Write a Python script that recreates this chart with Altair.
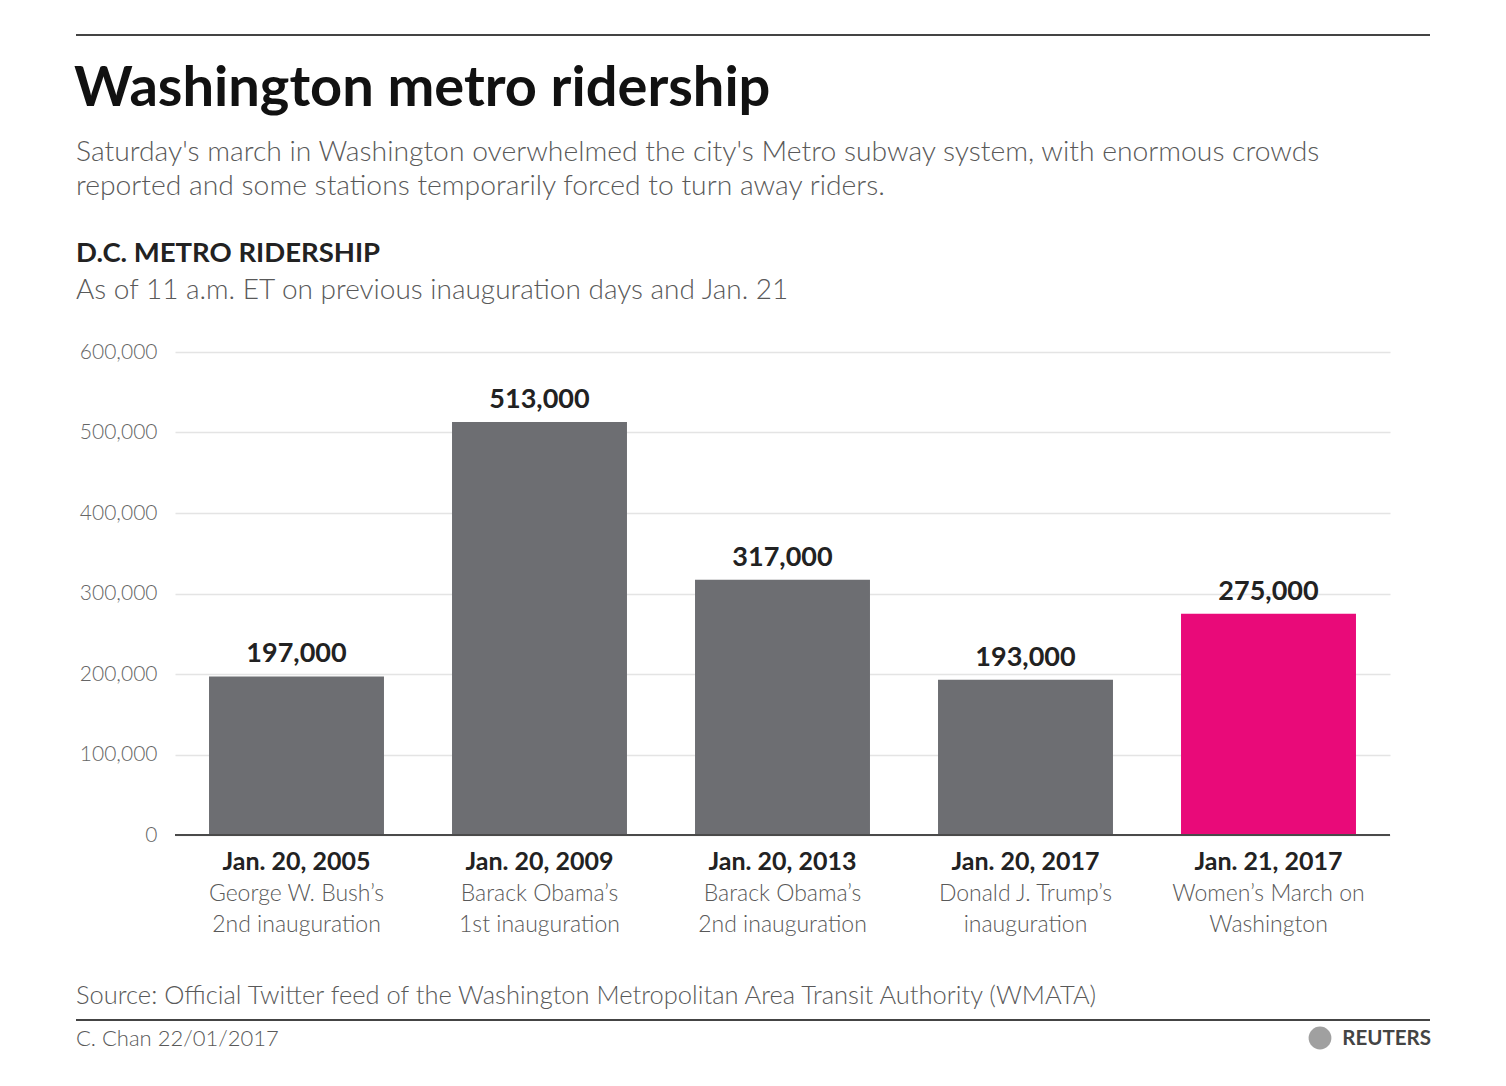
import altair as alt
import pandas as pd

# Ridership as of 11 a.m. ET
dates = ["Jan. 20, 2005", "Jan. 20, 2009", "Jan. 20, 2013", "Jan. 20, 2017", "Jan. 21, 2017"]
events = [
    "George W. Bush’s\n2nd inauguration",
    "Barack Obama’s\n1st inauguration",
    "Barack Obama’s\n2nd inauguration",
    "Donald J. Trump’s\ninauguration",
    "Women’s March on\nWashington",
]
riders = [197000, 513000, 317000, 193000, 275000]
bar_colors = ["#6d6e72", "#6d6e72", "#6d6e72", "#6d6e72", "#e90a79"]
y_ticks = [0, 100000, 200000, 300000, 400000, 500000, 600000]

df = pd.DataFrame({"date": dates, "event": events, "riders": riders, "color": bar_colors})

FONT = "Lato"
GREY = "#595959"
W, H = 1215, 483          # plot area
LEFT, TOP = 167, 344      # plot origin inside the svg

x = alt.X("date:N", sort=dates, title=None,
          scale=alt.Scale(paddingInner=0.28, paddingOuter=0.14),
          axis=alt.Axis(labels=False, ticks=False, domain=False, grid=False))
y = alt.Y("riders:Q", title=None,
          scale=alt.Scale(domain=[0, 600000], nice=False),
          axis=alt.Axis(values=y_ticks, format=",.0f", domain=False, ticks=False,
                        labelColor="#666", labelFontSize=21, labelPadding=18,
                        labelFont=FONT, labelFontWeight=300,
                        gridColor="#e4e4e4", gridWidth=1.5))

base = alt.Chart(df)

bars = base.mark_bar().encode(x=x, y=y, color=alt.Color("color:N", scale=None))

values = base.mark_text(font=FONT, fontSize=27, fontWeight="bold", color="#222",
                        baseline="alphabetic", dy=-14).encode(
    x=alt.X("date:N", sort=dates), y="riders:Q", text=alt.Text("riders:Q", format=",.0f"))

baseline = alt.Chart(pd.DataFrame({"v": [0]})).mark_rule(color="#4a4a4a", strokeWidth=2).encode(
    y="v:Q", x=alt.value(0), x2=alt.value(W))

date_lbl = base.mark_text(font=FONT, fontSize=25, fontWeight="bold", color="#222",
                          baseline="alphabetic").encode(
    x=alt.X("date:N", sort=dates), y=alt.value(870 - 352), text="date:N")

event_lbl = base.mark_text(font=FONT, fontSize=23, fontWeight=300, color=GREY,
                           baseline="alphabetic", lineBreak="\n", lineHeight=31).encode(
    x=alt.X("date:N", sort=dates), y=alt.value(901 - 352), text="event:N")


def note(txt, px, py, size, color, weight="normal", align="left"):
    # px, py are page coordinates; shift into plot coordinates
    return alt.Chart(pd.DataFrame({"t": [txt]})).mark_text(
        font=FONT, fontSize=size, color=color, fontWeight=weight,
        align=align, baseline="alphabetic").encode(
        text="t:N", x=alt.value(px - 175), y=alt.value(py - 352))


def hline(py, x0, x1, color="#444", w=2):
    return alt.Chart(pd.DataFrame({"v": [0]})).mark_rule(color=color, strokeWidth=w).encode(
        x=alt.value(x0 - 175), x2=alt.value(x1 - 175), y=alt.value(py - 352))


notes = [
    hline(35, 76, 1430),
    note("Washington metro ridership", 74, 106, 56, "#111", "bold"),
    note("Saturday's march in Washington overwhelmed the city's Metro subway system, with enormous crowds",
         76, 161, 28.3, GREY, 300),
    note("reported and some stations temporarily forced to turn away riders.", 76, 195, 28.3, GREY, 300),
    note("D.C. METRO RIDERSHIP", 76, 262, 27.5, "#222", "bold"),
    note("As of 11 a.m. ET on previous inauguration days and Jan. 21", 76, 299, 28, GREY, 300),
    note("Source: Official Twitter feed of the Washington Metropolitan Area Transit Authority (WMATA)",
         76, 1004, 25.5, GREY, 300),
    hline(1020, 76, 1430),
    note("C. Chan 22/01/2017", 76, 1046, 22, GREY, 300),
    note("REUTERS", 1431, 1045, 20.5, "#444", "bold", "right"),
]

logo = alt.Chart(pd.DataFrame({"v": [0]})).mark_point(
    shape="circle", size=520, filled=True, color="#777").encode(
    x=alt.value(1320 - 175), y=alt.value(1038 - 352))

chart = alt.layer(bars, baseline, values, date_lbl, event_lbl, logo, *notes).properties(
    width=W, height=H,
    autosize=alt.AutoSizeParams(type="none"),
    padding={"left": LEFT, "top": TOP, "right": 108, "bottom": 243},
    background="white",
).configure_view(strokeWidth=0)

chart.save("out.html", embed_options={"renderer": "svg", "actions": False})
